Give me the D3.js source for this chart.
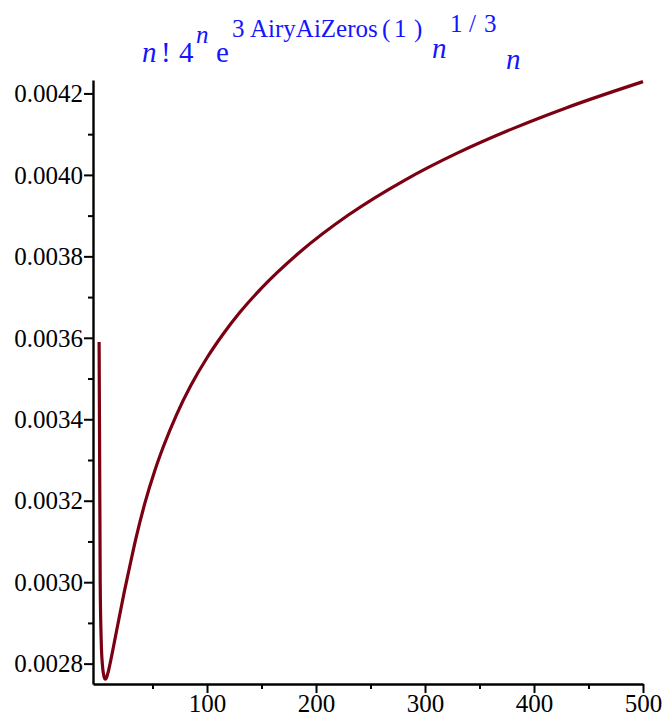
<!DOCTYPE html>
<html>
<head>
<meta charset="utf-8">
<script src="https://cdn.jsdelivr.net/npm/d3@7"></script>
<style>
  html, body { margin: 0; padding: 0; background: #fff; }
  svg { display: block; }
  svg text { font-family: "Liberation Serif", "Times New Roman", Times, "DejaVu Serif", serif; }
</style>
</head>
<body>
<div id="plot"></div>
<script>
// values
const nValues = [1, 2, 3, 4, 5, 6, 7, 8, 9, 10, 12, 14, 17, 20, 24, 28, 35, 43, 52, 60, 72, 85, 100, 115, 130, 150, 185, 230, 282, 330, 380, 430, 500];
const ratioValues = [0.00359, 0.00300, 0.00285, 0.002798, 0.002775, 0.002764, 0.002762, 0.002767, 0.002776, 0.002787, 0.002812, 0.002839, 0.00288, 0.002921, 0.002975, 0.003025, 0.00311, 0.003194, 0.003273, 0.003333, 0.003411, 0.003482, 0.003551, 0.00361, 0.003662, 0.003722, 0.00381, 0.003902, 0.003988, 0.004054, 0.004113, 0.004165, 0.004229];
const xMajorTicks = [100, 200, 300, 400, 500];
const xMinorTicks = [50, 150, 250, 350, 450];
const yMajorTicks = [0.0028, 0.0030, 0.0032, 0.0034, 0.0036, 0.0038, 0.0040, 0.0042];
const yMinorTicks = [0.0029, 0.0031, 0.0033, 0.0035, 0.0037, 0.0039, 0.0041];

const width = 665, height = 717;
const data = nValues.map((n, i) => ({ n, v: ratioValues[i] }));

const svg = d3.select("#plot").append("svg")
  .attr("width", width)
  .attr("height", height);

const x = d3.scaleLinear().domain([-4.6, 500]).range([93, 643]);
const y = d3.scaleLinear().domain([0.00275, 0.004233]).range([684, 80]);

// axes
const yAxis = svg.append("g")
  .attr("transform", `translate(${x.range()[0]},0)`)
  .call(d3.axisLeft(y).tickValues(yMajorTicks).tickSize(9).tickSizeOuter(0)
    .tickFormat(d3.format(".4f")));
svg.append("g")
  .attr("transform", `translate(${x.range()[0]},0)`)
  .call(d3.axisLeft(y).tickValues(yMinorTicks).tickSize(5).tickSizeOuter(0).tickFormat(""))
  .select(".domain").remove();

const xAxis = svg.append("g")
  .attr("transform", `translate(0,${y.range()[0]})`)
  .call(d3.axisBottom(x).tickValues(xMajorTicks).tickSize(9).tickSizeOuter(0)
    .tickFormat(d3.format("d")));
svg.append("g")
  .attr("transform", `translate(0,${y.range()[0]})`)
  .call(d3.axisBottom(x).tickValues(xMinorTicks).tickSize(5).tickSizeOuter(0).tickFormat(""))
  .select(".domain").remove();

svg.selectAll("g").attr("font-family", null);
svg.selectAll(".domain").attr("stroke", "#000").attr("stroke-width", 2.4);
svg.selectAll(".tick line").attr("stroke", "#000").attr("stroke-width", 2);
svg.selectAll(".tick text")
  .style("font-size", "25px")
  .attr("fill", "#000");
yAxis.selectAll(".tick text").attr("x", -10).attr("dy", "0.33em");
xAxis.selectAll(".tick text").attr("y", 8).attr("dy", "0.78em");

// curve
const line = d3.line()
  .x(d => x(d.n))
  .y(d => y(d.v))
  .curve(d3.curveMonotoneX);

svg.append("path")
  .datum(data)
  .attr("fill", "none")
  .attr("stroke", "#7a0012")
  .attr("stroke-width", 3.2)
  .attr("stroke-linejoin", "round")
  .attr("d", line);

// title (Maple-style typeset expression)
const titleParts = [
  { t: "n", x: 142, y: 62, s: 29, i: true },
  { t: "!", x: 161, y: 62, s: 29 },
  { t: "4", x: 179, y: 62, s: 29 },
  { t: "n", x: 196, y: 43, s: 25, i: true },
  { t: "e", x: 216, y: 62, s: 29 },
  { t: "3", x: 232, y: 37, s: 25 },
  { t: "AiryAiZeros", x: 250, y: 37, s: 25 },
  { t: "(", x: 382, y: 37, s: 25 },
  { t: "1", x: 394, y: 37, s: 25 },
  { t: ")", x: 414, y: 37, s: 25 },
  { t: "n", x: 432, y: 58, s: 29, i: true },
  { t: "1", x: 450, y: 32, s: 25 },
  { t: "/", x: 469, y: 32, s: 25 },
  { t: "3", x: 484, y: 32, s: 25 },
  { t: "n", x: 506, y: 69, s: 29, i: true }
];
const title = svg.append("text")
  .attr("fill", "#1414ff");
title.selectAll("tspan")
  .data(titleParts)
  .join("tspan")
  .attr("x", d => d.x)
  .attr("y", d => d.y)
  .style("font-size", d => d.s + "px")
  .style("font-style", d => d.i ? "italic" : null)
  .text(d => d.t);
</script>
</body>
</html>
